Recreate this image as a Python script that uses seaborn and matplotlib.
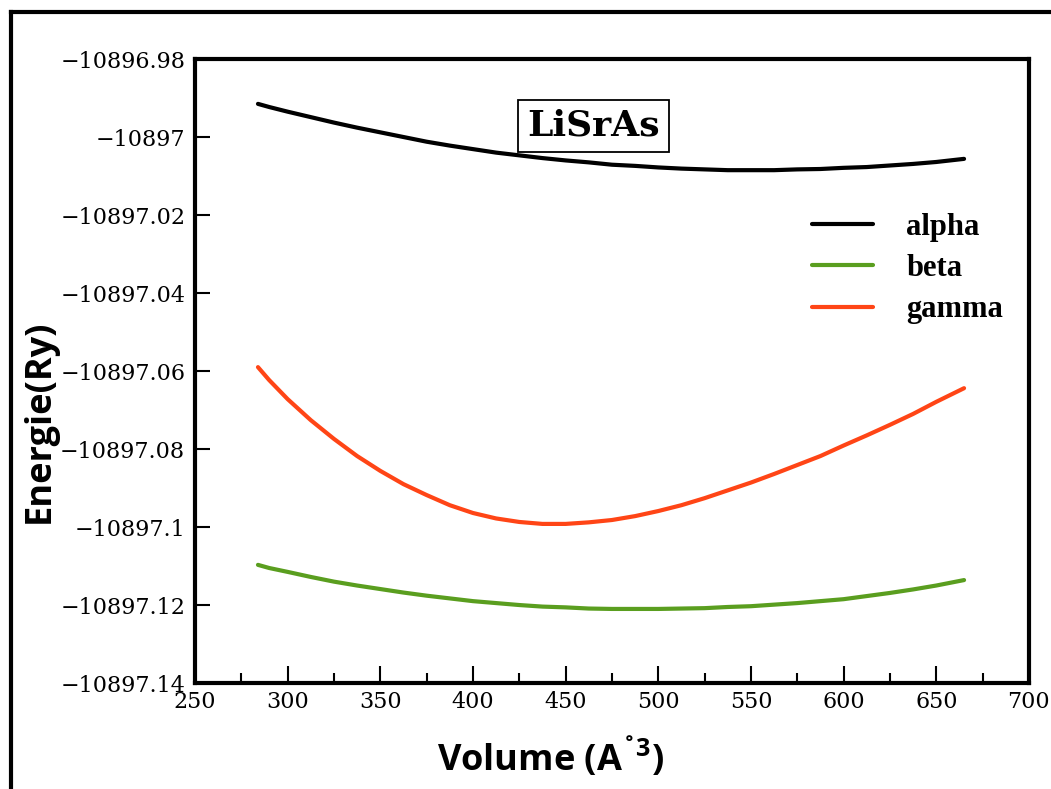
import numpy as np
import pandas as pd
import matplotlib
matplotlib.use("Agg")
import matplotlib.pyplot as plt
import seaborn as sns
from matplotlib.lines import Line2D
from matplotlib.ticker import FixedLocator, FixedFormatter, MultipleLocator

# ---- data ----
volume = [284, 290, 300, 312.5, 325, 337.5, 350, 362.5, 375, 387.5, 400, 412.5, 425, 437.5,
          450, 462.5, 475, 487.5, 500, 512.5, 525, 537.5, 550, 562.5, 575, 587.5, 600,
          612.5, 625, 637.5, 650, 665]
alpha = [-10896.9915, -10896.9923, -10896.9935, -10896.9949, -10896.9963, -10896.9976,
         -10896.9988, -10897.0000, -10897.0012, -10897.0022, -10897.0031, -10897.0040,
         -10897.0047, -10897.0054, -10897.0060, -10897.0065, -10897.0071, -10897.0074,
         -10897.0078, -10897.0081, -10897.0083, -10897.0085, -10897.0085, -10897.0085,
         -10897.0083, -10897.0082, -10897.0079, -10897.0077, -10897.0073, -10897.0069,
         -10897.0064, -10897.0056]
beta = [-10897.1097, -10897.1105, -10897.1115, -10897.1128, -10897.1140, -10897.1150,
        -10897.1159, -10897.1168, -10897.1176, -10897.1183, -10897.1190, -10897.1195,
        -10897.1200, -10897.1204, -10897.1206, -10897.1209, -10897.1210, -10897.1210,
        -10897.1210, -10897.1209, -10897.1208, -10897.1205, -10897.1203, -10897.1199,
        -10897.1195, -10897.1190, -10897.1185, -10897.1177, -10897.1169, -10897.1160,
        -10897.1150, -10897.1136]
gamma = [-10897.0590, -10897.0623, -10897.0672, -10897.0726, -10897.0774, -10897.0818,
         -10897.0856, -10897.0890, -10897.0918, -10897.0944, -10897.0964, -10897.0978,
         -10897.0987, -10897.0992, -10897.0992, -10897.0988, -10897.0982, -10897.0972,
         -10897.0959, -10897.0944, -10897.0926, -10897.0906, -10897.0886, -10897.0864,
         -10897.0841, -10897.0818, -10897.0791, -10897.0765, -10897.0738, -10897.0710,
         -10897.0679, -10897.0644]
series_names = ["alpha", "beta", "gamma"]
colors = ["#000000", "#5a9e1f", "#ff4516"]

y_ticks = [-10896.98, -10897.0, -10897.02, -10897.04, -10897.06, -10897.08, -10897.1, -10897.12, -10897.14]
y_tick_labels = ["\u221210896.98", "\u221210897", "\u221210897.02", "\u221210897.04", "\u221210897.06",
                 "\u221210897.08", "\u221210897.1", "\u221210897.12", "\u221210897.14"]
x_ticks = [250, 300, 350, 400, 450, 500, 550, 600, 650, 700]
title_text = "LiSrAs"

df = pd.concat([
    pd.DataFrame({"Volume": volume, "Energy": vals, "phase": name})
    for name, vals in zip(series_names, [alpha, beta, gamma])
], ignore_index=True)

sns.set_style("ticks")
plt.rcParams["text.color"] = "black"
plt.rcParams["axes.labelcolor"] = "black"
plt.rcParams["xtick.color"] = "black"
plt.rcParams["ytick.color"] = "black"
plt.rcParams["mathtext.fontset"] = "custom"
plt.rcParams["mathtext.bf"] = "Open Sans:bold"
plt.rcParams["mathtext.rm"] = "Open Sans:bold"

fig = plt.figure(figsize=(10.51, 7.89), dpi=100)
ax = fig.add_axes([0.1855, 0.1343, 0.979 - 0.1855, 0.9252 - 0.1343])

sns.lineplot(data=df, x="Volume", y="Energy", hue="phase",
             palette=dict(zip(series_names, colors)), linewidth=3.0,
             ax=ax, legend=False, sort=False)

ax.set_xlim(250, 700)
ax.set_ylim(-10897.14, -10896.98)
ax.xaxis.set_major_locator(FixedLocator(x_ticks))
ax.xaxis.set_minor_locator(MultipleLocator(25))
ax.yaxis.set_major_locator(FixedLocator(y_ticks))
ax.yaxis.set_major_formatter(FixedFormatter(y_tick_labels))

for s in ax.spines.values():
    s.set_linewidth(3.0)
    s.set_color("black")

ax.tick_params(axis="x", which="major", direction="in", length=12, width=1.5,
               labelsize=16, pad=6, top=False, colors="black")
ax.tick_params(axis="x", which="minor", direction="in", length=7, width=1.5, top=False)
ax.tick_params(axis="y", which="major", direction="in", length=11, width=1.5,
               labelsize=16, pad=7, right=False, colors="black")
for lab in ax.get_xticklabels() + ax.get_yticklabels():
    lab.set_family("DejaVu Serif")

ax.set_xlabel("Volume (A$^{\\mathbf{\u02da3}}$)", fontsize=26, fontweight="bold",
              family=["Open Sans", "DejaVu Sans"], color="black")
ax.set_ylabel("Energie(Ry)", fontsize=26, fontweight="bold",
              family=["Open Sans", "DejaVu Sans"], color="black")
ax.xaxis.set_label_coords(0.426, -0.083)
ax.yaxis.set_label_coords(-0.165, 0.42)

ax.text(0.478, 0.893, title_text, transform=ax.transAxes, ha="center", va="center",
        fontsize=26, fontweight="bold", family="DejaVu Serif", color="black",
        bbox=dict(boxstyle="square,pad=0.25", facecolor="white", edgecolor="black", linewidth=1.3))

handles = [Line2D([], [], color=c, linewidth=3.0) for c in colors]
leg = ax.legend(handles, series_names, loc="upper left", bbox_to_anchor=(0.721, 0.778),
                frameon=False, handlelength=2.0, handletextpad=1.1, labelspacing=0.4,
                borderpad=0, prop={"family": "Liberation Serif", "weight": "bold", "size": 22})
for t in leg.get_texts():
    t.set_color("black")

# outer frame (left and top edges visible)
fig.add_artist(Line2D([0.0105, 0.0105], [-0.02, 0.9848], color="black", linewidth=3,
                      transform=fig.transFigure, solid_capstyle="projecting"))
fig.add_artist(Line2D([0.0105, 1.02], [0.9848, 0.9848], color="black", linewidth=3,
                      transform=fig.transFigure, solid_capstyle="projecting"))

fig.savefig("out.png", dpi=100)
